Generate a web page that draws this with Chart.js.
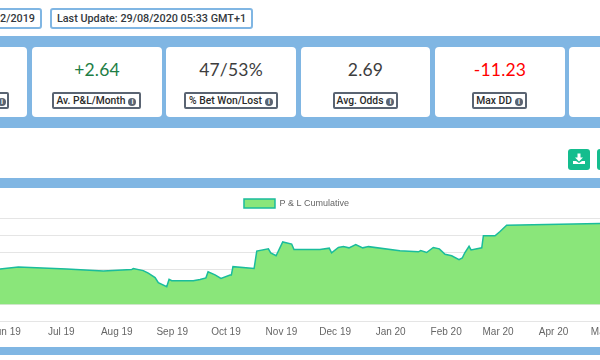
<!DOCTYPE html>
<html><head><meta charset="utf-8">
<style>
html,body{margin:0;padding:0;background:#fff;width:600px;height:360px;overflow:hidden;font-family:Lato,sans-serif}
.abs{position:absolute;box-sizing:border-box}
.band{background:#80b6e3;left:0;width:600px}
.card{background:#fff;border-radius:4px;top:47px;height:70px}
.val{position:absolute;left:0;right:0;top:13px;text-align:center;font-size:17.5px;color:#3d3d3d;line-height:20px;letter-spacing:.2px}
.lab{position:absolute;top:45px;height:17px;border:2px solid #5a6472;border-radius:2px;box-sizing:border-box;font:500 10.3px/13px Roboto,sans-serif;color:#2b2b2b;white-space:nowrap;text-align:center;background:#fff}
.ic{display:inline-block;width:8px;height:8px;border-radius:50%;background:#5a6472;color:#fff;font:bold 7px/8px "Liberation Sans";text-align:center;margin-left:3px;vertical-align:0}
.pill{top:8px;height:21px;border:2px solid #80b6e3;border-radius:3px;font:500 10.8px/17px Roboto,sans-serif;color:#33383d;white-space:nowrap;text-align:center}
.btn{background:#14bd8e;border-radius:3px;top:149px;height:21px}
#wrap{position:absolute;left:-64px;top:188px;width:721px;height:159px}
</style></head><body>
<div class="abs pill" style="left:-20px;width:62px;text-align:right;padding-right:5px">2/2019</div>
<div class="abs pill" style="left:50px;width:203px">Last Update: 29/08/2020 05:33 GMT+1</div>
<div class="abs band" style="top:36px;height:92px"></div>
<div class="abs card" style="left:-100px;width:127px"><div class="lab" style="left:70px;width:39px;text-align:right;padding-right:1px"><span class="ic">i</span></div></div>
<div class="abs card" style="left:32px;width:130px"><div class="val" style="color:#1e7e45">+2.64</div><div class="lab" style="left:20px;width:89px">Av. P&amp;L/Month<span class="ic">i</span></div></div>
<div class="abs card" style="left:166px;width:130px"><div class="val">47/53%</div><div class="lab" style="left:18px;width:94px">% Bet Won/Lost<span class="ic">i</span></div></div>
<div class="abs card" style="left:301px;width:129px"><div class="val">2.69</div><div class="lab" style="left:32px;width:65px">Avg. Odds<span class="ic">i</span></div></div>
<div class="abs card" style="left:435px;width:130px"><div class="val" style="color:#f00">-11.23</div><div class="lab" style="left:37px;width:55px">Max DD<span class="ic">i</span></div></div>
<div class="abs card" style="left:569px;width:130px"></div>
<div class="abs btn" style="left:568px;width:22px"><svg width="22" height="21" viewBox="0 0 22 21"><path fill="#fff" d="M9.5 4.500h3v4h2.500l-4 4-4-4h2.500zM5 12h3l3 2 3-2h3v3H5z"/></svg></div>
<div class="abs btn" style="left:597px;width:22px"></div>
<div class="abs band" style="top:178px;height:10px"></div>
<div class="abs band" style="top:347px;height:8px"></div>
<div id="wrap"><canvas id="c" width="721" height="159"></canvas></div>
<script src="https://cdn.jsdelivr.net/npm/chart.js@4"></script>
<script>
const seriesName = "P & L Cumulative";
const tickDays = [-30,1,32,63,93,124,154,185,216,245,276,306];
const tickLabels = ["Jun 19","Jul 19","Aug 19","Sep 19","Oct 19","Nov 19","Dec 19","Jan 20","Feb 20","Mar 20","Apr 20","May 20"];
const days = [-69,-33.2,-23,4,24.5,40.3,41.2,46.8,49.6,53.4,55.2,59.9,61.2,62.7,74.7,78.5,81.8,83,86.9,90.2,95.3,96,96.9,108.7,110.2,116.7,118,121,124.7,129.7,131,145.5,150.7,152,155.8,158.6,161.7,165.5,169.4,172.6,190.2,200.5,201.8,205.1,208.8,212.2,215.4,219.1,223.2,225,226.5,228.8,229.9,235.9,236.8,243.3,246.1,249.8,301.9,333.8];
const pnl = [20,20.5,21.6,20.5,19.3,20.1,20.7,19.5,18,15.5,12.5,10.2,14.4,13.6,13.6,14.4,15.3,18.8,17,15,16.9,16.9,21.8,20.7,30.8,32.1,29.8,28.1,36.1,34.9,31.7,31.7,32.5,29.8,32.9,33.4,32.7,34.6,32.7,33.4,31,30.4,31.1,30,32.9,32.1,29,28.1,25.8,26.8,30,33.6,31.5,32.7,39.7,39.7,42.2,45.8,46.8,47.3];
const points = days.map((d,i)=>({x:d,y:pnl[i]}));
new Chart(document.getElementById('c'),{
  type:'line',
  data:{datasets:[{label:seriesName,data:points,borderColor:'#1abc9c',backgroundColor:'#8ae67a',borderWidth:1.5,pointRadius:0,tension:0,fill:'origin'}]},
  options:{
    responsive:false,animation:false,
    layout:{padding:{top:4,bottom:3.5}},
    plugins:{tooltip:{enabled:false},legend:{labels:{boxWidth:31,font:{size:9,family:'"Liberation Sans"'},color:'#666',padding:7}}},
    scales:{
      x:{type:'linear',min:-69,max:333.8,grid:{display:false,drawTicks:false},border:{display:false},
         afterBuildTicks(a){a.ticks=tickDays.map(v=>({value:v}));},
         ticks:{autoSkip:false,maxRotation:0,font:{size:10,family:'"Liberation Sans"'},color:'#666',padding:5,callback:v=>tickLabels[tickDays.indexOf(v)]}},
      y:{min:-10,max:50,ticks:{display:false,stepSize:10},grid:{drawTicks:false,color:'rgba(0,0,0,.1)'},border:{display:false}}
    }
  }
});
</script>
</body></html>
